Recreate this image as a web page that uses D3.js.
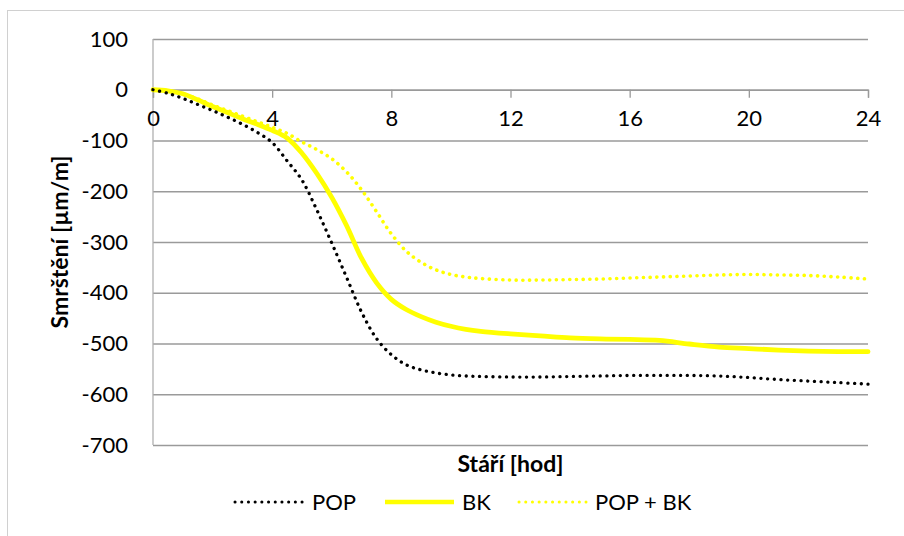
<!DOCTYPE html>
<html><head><meta charset="utf-8">
<script src="https://cdn.jsdelivr.net/npm/d3@7"></script>
<style>html,body{margin:0;padding:0;background:#fff;}svg{display:block;font-family:Lato,"Open Sans",sans-serif;}</style>
</head><body>
<svg id="c" width="904" height="536"></svg>
<script>
const hours = [0,0.5,1,1.5,2,2.5,3,3.5,4,4.5,5,5.5,6,6.5,7,7.5,8,8.5,9,9.5,10,10.5,11,12,13,14,15,16,17,18,19,20,21,22,23,24];
const pop   = [0,-7,-17,-29,-41,-54,-68,-84,-104,-140,-178,-237,-302,-370,-438,-490,-522,-542,-552,-558,-562,-564,-565,-566,-566,-565,-564,-563,-563,-563,-564,-567,-571,-574,-577,-580];
const bk    = [0,-2,-8,-20,-33,-45,-57,-68,-80,-95,-125,-165,-212,-268,-332,-380,-413,-433,-447,-458,-466,-472,-476,-481,-485,-489,-491,-492,-494,-501,-507,-510,-513,-515,-516,-516];
const popbk = [0,-2,-8,-18,-30,-41,-52,-63,-74,-86,-103,-118,-136,-162,-197,-240,-284,-318,-340,-355,-364,-369,-372,-375,-375,-374,-373,-371,-369,-367,-365,-364,-365,-366,-369,-373];
const seriesNames = ["POP","BK","POP + BK"];
const xTicks = [0,4,8,12,16,20,24];
const yTicks = [100,0,-100,-200,-300,-400,-500,-600,-700];
const xTitle = "Stáří [hod]";
const yTitle = "Smrštění [µm/m]";

const svg = d3.select("#c");
const L = 153, R = 868, T = 39, B = 445;
const x = d3.scaleLinear().domain([0,24]).range([L,R]);
const y = d3.scaleLinear().domain([-700,100]).range([B,T]);

svg.append("rect").attr("x",7.5).attr("y",10.5).attr("width",910).attr("height",540)
  .attr("fill","none").attr("stroke","#d0d0d0").attr("stroke-width",1);

const gy = svg.append("g").attr("transform",`translate(${L},0)`)
  .call(d3.axisLeft(y).tickValues(yTicks).tickSize(-(R-L)).tickFormat(""));
gy.select(".domain").remove();
gy.selectAll(".tick line").attr("stroke","#9a9a9a").attr("stroke-width",1.3);

svg.append("line").attr("x1",L).attr("x2",L).attr("y1",T).attr("y2",B).attr("stroke","#b0b0b0").attr("stroke-width",1.3);

const yl = svg.append("g").attr("transform",`translate(${L-6},0)`)
  .call(d3.axisLeft(y).tickValues(yTicks).tickSize(0).tickPadding(0).tickFormat(d=> d<0 ? "-"+Math.abs(d) : d));
yl.select(".domain").remove();
yl.selectAll("text").attr("font-family","Lato, 'Open Sans', sans-serif").attr("font-size",22).attr("fill","#000")
  .attr("x",-19);

const xa = svg.append("g").attr("transform",`translate(0,${y(0)})`)
  .call(d3.axisBottom(x).tickValues(xTicks).tickSize(8).tickPadding(13).tickFormat(d3.format("d")));
xa.select(".domain").attr("stroke","#9a9a9a").attr("stroke-width",1.3);
xa.selectAll(".tick line").attr("stroke","#9a9a9a").attr("stroke-width",1.3);
xa.selectAll("text").attr("font-family","Lato, 'Open Sans', sans-serif").attr("font-size",22).attr("fill","#000");

const line = vals => d3.line().curve(d3.curveCatmullRom.alpha(0.5))
  .x((d,i)=>x(hours[i])).y(d=>y(d))(vals);
const styles = [
  {data:pop, color:"#000000", width:3.3, dash:"0.1 6.6"},
  {data:bk, color:"#ffff00", width:4.8, dash:null},
  {data:popbk, color:"#ffff00", width:3.6, dash:"0.1 6.6"}
];
[2,1,0].forEach(k=>{
  const s = styles[k];
  const p = svg.append("path").attr("d",line(s.data)).attr("fill","none")
    .attr("stroke",s.color).attr("stroke-width",s.width).attr("stroke-linecap","round").attr("stroke-linejoin","round");
  if (s.dash) p.attr("stroke-dasharray",s.dash);
});

svg.append("text").attr("x",(L+R)/2).attr("y",472).attr("text-anchor","middle")
  .attr("font-size",23).attr("font-weight","bold").text(xTitle);
svg.append("text").attr("transform",`translate(68,${(T+B)/2}) rotate(-90)`).attr("text-anchor","middle")
  .attr("font-size",23).attr("font-weight","bold").text(yTitle);

const legX = [[235,303,312],[385,454,462],[519,586,595]];
seriesNames.forEach((n,k)=>{
  const s = styles[k];
  const ln = svg.append("line").attr("x1",legX[k][0]).attr("x2",legX[k][1]).attr("y1",502).attr("y2",502)
    .attr("stroke",s.color).attr("stroke-width",s.dash? 3:4.5).attr("stroke-linecap", s.dash?"round":"butt");
  if (s.dash) ln.attr("stroke-dasharray","0.1 6.6");
  svg.append("text").attr("x",legX[k][2]).attr("y",510).attr("font-size",22).attr("fill","#000").text(n);
});
</script>
</body></html>
